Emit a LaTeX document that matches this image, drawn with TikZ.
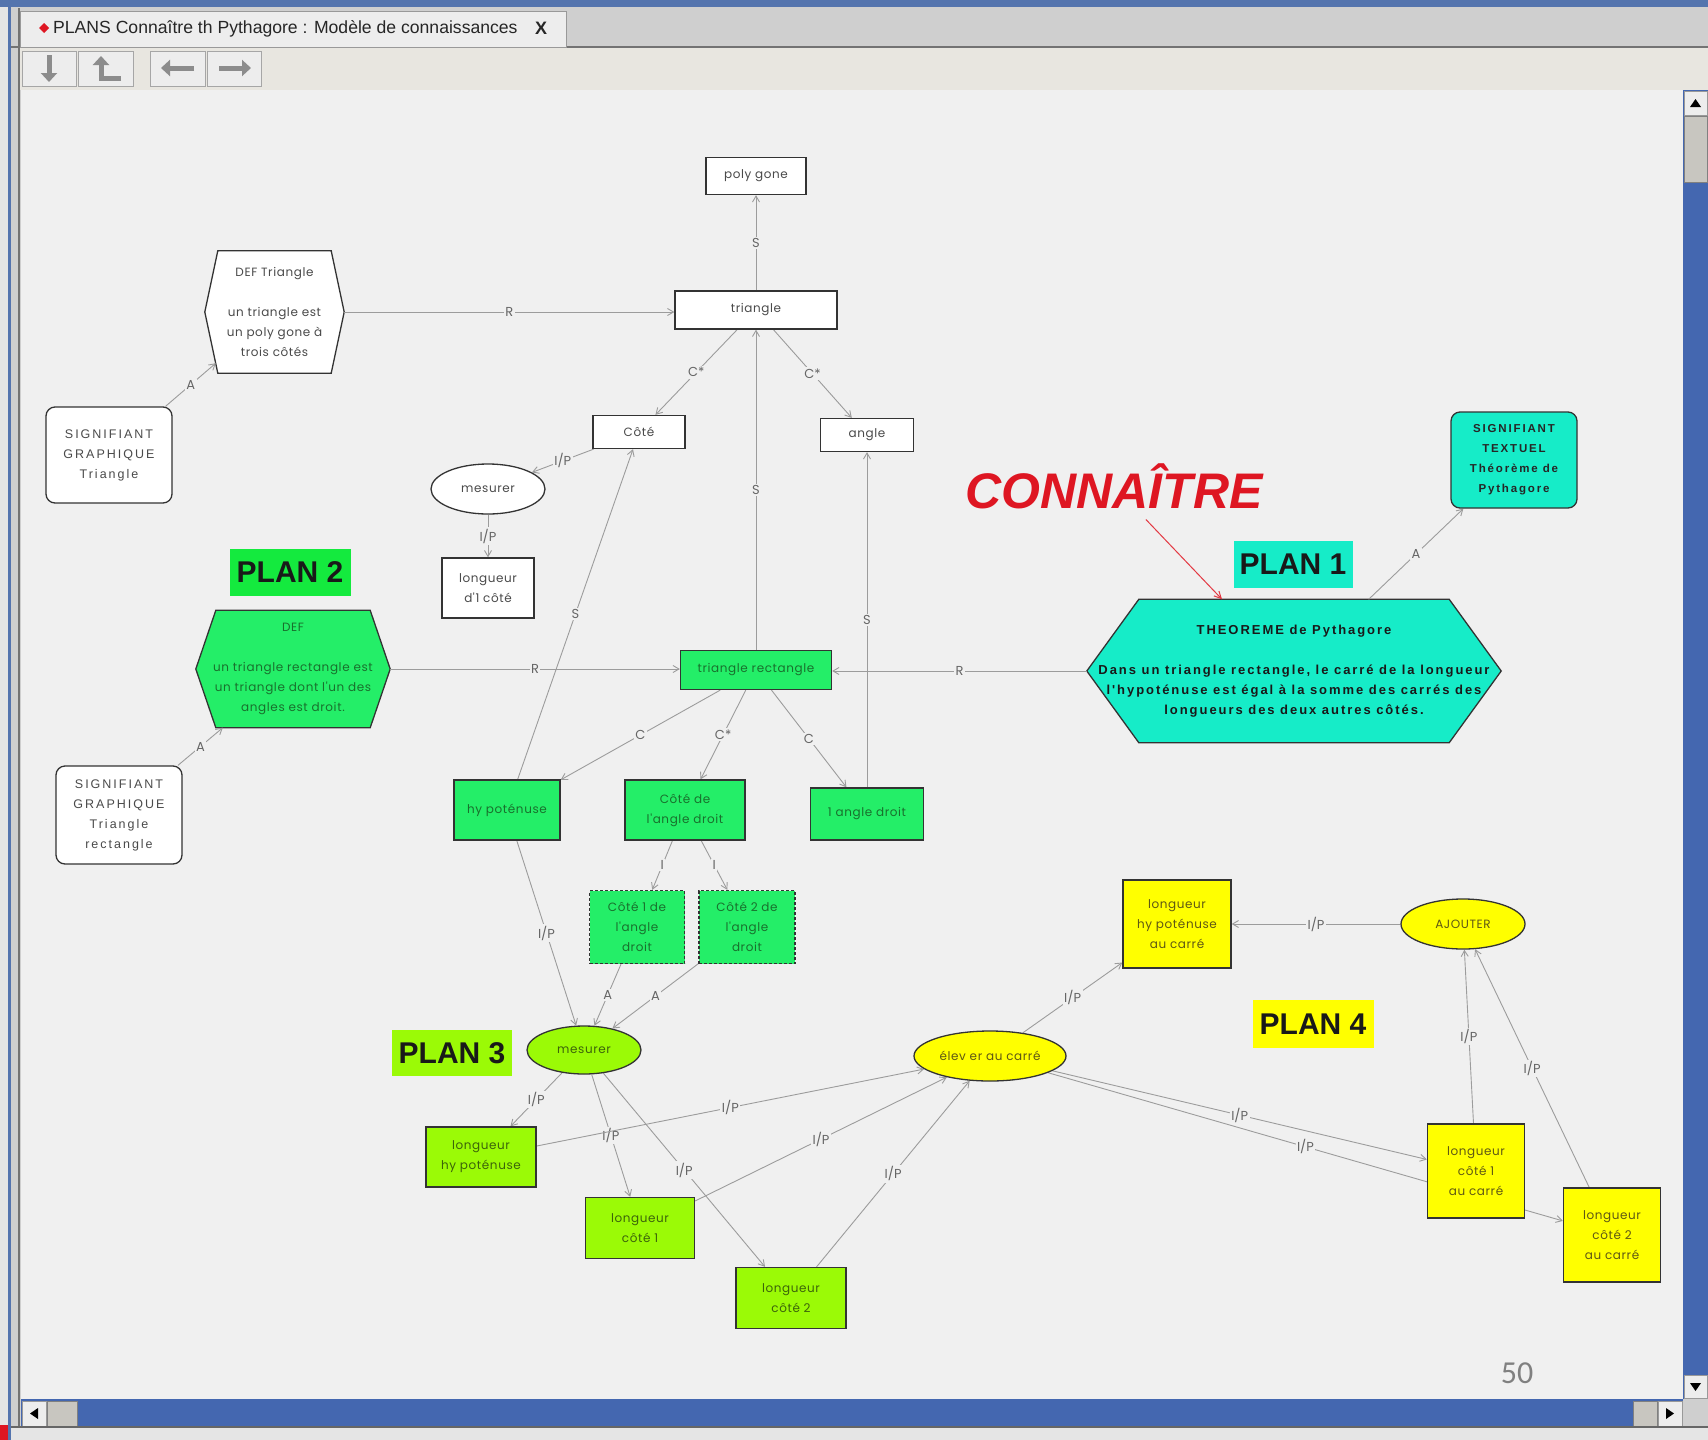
\documentclass[tikz,border=0pt]{standalone}
\usepackage{fontspec}
\setmainfont{Liberation Sans}
\newfontfamily\geofont[LetterSpace=5]{Poppins}
\newfontfamily\linkfont{Poppins}
\newfontfamily\capsfont[LetterSpace=16]{Liberation Sans}
\newfontfamily\theofamily[LetterSpace=15]{Liberation Sans}
\newfontfamily\pagefont{Carlito}
\usetikzlibrary{arrows.meta,shapes.geometric}

\pgfdeclarelayer{chromelayer}
\pgfdeclarelayer{shapelayer}
\pgfdeclarelayer{linklayer}
\pgfsetlayers{chromelayer,shapelayer,linklayer,main}

\definecolor{canvas}{HTML}{F0F0F0}
\definecolor{linkgray}{HTML}{9C9C9C}
\definecolor{labelgray}{HTML}{666666}
\definecolor{nodegreen}{RGB}{36,238,104}
\definecolor{plangreen}{RGB}{20,234,62}
\definecolor{limegreen}{RGB}{155,250,6}
\definecolor{brightyellow}{RGB}{255,255,0}
\definecolor{turquoise}{RGB}{22,236,200}
\definecolor{textgreen}{RGB}{25,112,45}
\definecolor{textlime}{RGB}{60,100,10}
\definecolor{textolive}{RGB}{95,88,20}
\definecolor{textgray}{HTML}{4A4A4A}
\definecolor{alertred}{RGB}{222,22,34}
\definecolor{titleblue}{HTML}{5474AE}
\definecolor{framegray}{HTML}{CFCFCF}
\definecolor{tabface}{HTML}{EDEDED}
\definecolor{toolbarface}{HTML}{E8E6E0}
\definecolor{trackblue}{HTML}{4467B0}
\definecolor{thumbgray}{HTML}{C8C6C0}
\definecolor{icongray}{HTML}{8C8C8C}

\newcommand\nodefont{\geofont\fontsize{12}{20}\selectfont}
\newcommand\labelfont{\linkfont\fontsize{13}{14}\selectfont}
\newcommand\signfont{\capsfont\fontsize{12.5}{20}\selectfont}
\newcommand\theofont{\theofamily\bfseries\fontsize{13}{20}\selectfont}
\newcommand\textuelfont{\capsfont\bfseries\fontsize{11.5}{20}\selectfont}

\tikzset{
  box/.style={rectangle, draw=black!80, line width=1.3pt, align=center, inner sep=0pt, font=\nodefont},
  whitebox/.style={box, fill=white, text=textgray},
  greenbox/.style={box, fill=nodegreen, text=textgreen},
  limebox/.style={box, fill=limegreen, text=textlime},
  yellowbox/.style={box, fill=brightyellow, text=textolive},
  oval/.style={ellipse, draw=black!80, line width=1.3pt, inner sep=0pt, font=\nodefont},
  roundbox/.style={box, rounded corners=9pt},
  hexnode/.style={rectangle, inner sep=0pt, align=center, font=\nodefont},
  hexline/.style={draw=black!80, line width=1.3pt, line join=miter},
  plantag/.style={rectangle, inner sep=0pt, font=\bfseries\fontsize{30}{30}\selectfont, text=black!90},
  link/.style={draw=linkgray, line width=0.9pt, -{Straight Barb[length=6pt,width=7pt]}},
  lab/.style={fill=canvas, inner sep=1.5pt, text=labelgray, font=\labelfont},
  button/.style={fill=black!7, draw=black!35, line width=1pt},
  arrowicon/.style={draw=icongray, line width=5pt, -{Triangle[length=9pt,width=16pt]}},
  scrollbtn/.style={fill=tabface, draw=black!40, line width=0.8pt},
  thumb/.style={fill=thumbgray, draw=black!50, line width=0.8pt},
}

% hexagon outline drawn behind a named rectangular text node
\newcommand\drawhex[3]{%
  \begin{pgfonlayer}{shapelayer}
  \draw[hexline, fill=#3] ([xshift=#2]#1.north west) -- ([xshift=-#2]#1.north east) -- (#1.east)
    -- ([xshift=-#2]#1.south east) -- ([xshift=#2]#1.south west) -- (#1.west) -- cycle;
  \end{pgfonlayer}}

\begin{document}
\begin{tikzpicture}[x=1pt,y=-1pt]
\useasboundingbox (0,0) rectangle (1708,1440);

% ---------------- window frame, tab, toolbar, scrollbars ----------------
\begin{pgfonlayer}{chromelayer}
  \fill[framegray] (0,0) rectangle (1708,1440);
  \fill[titleblue] (0,0) rectangle (1708,7);
  \fill[black!10] (0,7) rectangle (8,1440);
  \fill[titleblue] (8,7) rectangle (11,1440);
  \fill[black!19] (11,8) rectangle (1708,47);
  \draw[black!55, line width=1.5pt] (11,47) -- (1708,47);
  \draw[black!55, line width=1.5pt] (19,8) -- (19,1427);
  \filldraw[fill=tabface, draw=black!40, line width=1pt] (20,11) rectangle (566,47);
  \fill[alertred] (44,23) -- (49,28) -- (44,33) -- (39,28) -- cycle;
  \node[anchor=west, inner sep=0pt, font=\fontsize{17.6}{17.6}\selectfont, text=black!85] (tabtitle) at (53,29)
    {PLANS Connaître th Pythagore : Modèle de connaissances};
  \node[inner sep=0pt, font=\bfseries\fontsize{18}{18}\selectfont, text=black!85] (tabclose) at (541,28) {X};
  \fill[toolbarface] (20,48) rectangle (1708,90);
  \filldraw[button] (22,51) rectangle (76,86);
  \filldraw[button] (78,51) rectangle (133,86);
  \filldraw[button] (150,51) rectangle (205,86);
  \filldraw[button] (207,51) rectangle (261,86);
  \draw[arrowicon] (49,55) -- (49,82);
  \draw[arrowicon] (121,78) -- (101,78) -- (101,56);
  \draw[arrowicon] (194,68) -- (161,68);
  \draw[arrowicon] (219,68) -- (251,68);
  % drawing canvas
  \fill[canvas] (21,90) rectangle (1683,1399);
  % vertical scrollbar
  \fill[trackblue] (1683,90) rectangle (1708,1399);
  \filldraw[scrollbtn] (1684,91) rectangle (1707,115);
  \fill[black] (1695.5,99) -- (1701,107) -- (1690,107) -- cycle;
  \filldraw[thumb] (1684,116) rectangle (1707,182);
  \filldraw[scrollbtn] (1684,1375) rectangle (1707,1398);
  \fill[black] (1695.5,1391) -- (1701,1383) -- (1690,1383) -- cycle;
  % horizontal scrollbar
  \fill[trackblue] (21,1399) rectangle (1683,1427);
  \filldraw[scrollbtn] (22,1401) rectangle (46,1426);
  \fill[black] (30,1413.5) -- (38,1408) -- (38,1419) -- cycle;
  \filldraw[thumb] (47,1401) rectangle (77,1426);
  \filldraw[thumb] (1633,1401) rectangle (1657,1426);
  \filldraw[scrollbtn] (1658,1401) rectangle (1682,1426);
  \fill[black] (1674,1413.5) -- (1666,1408) -- (1666,1419) -- cycle;
  \fill[framegray] (1683,1399) rectangle (1708,1427);
  \fill[black!10] (11,1427) rectangle (1708,1440);
  \draw[black!60, line width=1.5pt] (11,1427) -- (1708,1427);
  \fill[alertred] (0,1425) rectangle (8,1440);
  \node[font=\pagefont\fontsize{32}{32}\selectfont, text=black!50] (pagenum) at (1517,1373) {50};
\end{pgfonlayer}

% ---------------- upper part: triangle ----------------
\node[whitebox, minimum width=100pt, minimum height=37pt] (poly) at (756,176) {poly gone};
\node[whitebox, minimum width=162pt, minimum height=38pt] (tri) at (756,310) {triangle};
\node[hexnode, minimum width=139pt, minimum height=122pt, text=textgray] (defT) at (274.5,312)
  {DEF Triangle\\[20pt]un triangle est\\un poly gone à\\trois côtés};
\drawhex{defT}{13pt}{white}
\node[roundbox, fill=white, text=textgray, font=\signfont, minimum width=126pt, minimum height=96pt] (sgT) at (109,455)
  {SIGNIFIANT\\GRAPHIQUE\\Triangle};
\node[whitebox, minimum width=92pt, minimum height=33pt] (cote) at (639,432) {Côté};
\node[whitebox, minimum width=93pt, minimum height=33pt] (angle) at (867,435) {angle};
\node[oval, fill=white, text=textgray, minimum width=114pt, minimum height=50pt] (mesA) at (488,489) {mesurer};
\node[whitebox, minimum width=92pt, minimum height=60pt] (lenA) at (488,588) {longueur\\d'1 côté};

% ---------------- plan 2 ----------------
\node[plantag, fill=plangreen, minimum width=121pt, minimum height=47pt] (plan2) at (290,572) {PLAN 2};
\node[hexnode, minimum width=194pt, minimum height=117pt, text=textgreen] (defR) at (293,669)
  {DEF\\[20pt]un triangle rectangle est\\un triangle dont l'un des\\angles est droit.};
\drawhex{defR}{20pt}{nodegreen}
\node[roundbox, fill=white, text=textgray, font=\signfont, minimum width=126pt, minimum height=98pt] (sgR) at (119,815)
  {SIGNIFIANT\\GRAPHIQUE\\Triangle\\rectangle};
\node[greenbox, minimum width=151pt, minimum height=39pt] (trr) at (756,670) {triangle rectangle};
\node[greenbox, minimum width=106pt, minimum height=60pt] (hyp) at (507,810) {hy poténuse};
\node[greenbox, minimum width=120pt, minimum height=60pt] (cad) at (685,810) {Côté de\\l'angle droit};
\node[greenbox, minimum width=113pt, minimum height=52pt] (adr) at (867,814) {1 angle droit};
\node[greenbox, dash pattern=on 3pt off 2pt, minimum width=95pt, minimum height=73pt] (ca1) at (637,927) {Côté 1 de\\l'angle\\droit};
\node[greenbox, dash pattern=on 3pt off 2pt, minimum width=96pt, minimum height=73pt] (ca2) at (747,927) {Côté 2 de\\l'angle\\droit};

% ---------------- plan 3 ----------------
\node[plantag, fill=limegreen, minimum width=120pt, minimum height=46pt] (plan3) at (452,1053) {PLAN 3};
\node[oval, fill=limegreen, text=textlime, minimum width=114pt, minimum height=48pt] (mesB) at (584,1050) {mesurer};
\node[limebox, minimum width=110pt, minimum height=60pt] (lhyp) at (481,1157) {longueur\\hy poténuse};
\node[limebox, minimum width=109pt, minimum height=61pt] (lc1) at (640,1228) {longueur\\côté 1};
\node[limebox, minimum width=110pt, minimum height=61pt] (lc2) at (791,1298) {longueur\\côté 2};

% ---------------- plan 4 ----------------
\node[oval, fill=brightyellow, text=textolive, minimum width=152pt, minimum height=50pt] (elev) at (990,1056) {élev er au carré};
\node[yellowbox, minimum width=108pt, minimum height=88pt] (lhc) at (1177,924) {longueur\\hy poténuse\\au carré};
\node[oval, fill=brightyellow, text=textolive, minimum width=124pt, minimum height=50pt] (ajout) at (1463,924) {AJOUTER};
\node[plantag, fill=brightyellow, minimum width=121pt, minimum height=48pt] (plan4) at (1313,1024) {PLAN 4};
\node[yellowbox, minimum width=97pt, minimum height=94pt] (lc1c) at (1476,1171) {longueur\\côté 1\\au carré};
\node[yellowbox, minimum width=97pt, minimum height=94pt] (lc2c) at (1612,1235) {longueur\\côté 2\\au carré};

% ---------------- plan 1 ----------------
\node[font=\bfseries\itshape\fontsize{50}{50}\selectfont, text=alertred, inner sep=2pt] (conn) at (1114,486) {CONNAÎTRE};
\node[plantag, fill=turquoise, minimum width=119pt, minimum height=47pt] (plan1) at (1293,564) {PLAN 1};
\node[hexnode, font=\theofont, text=black!90, minimum width=414pt, minimum height=143pt] (theo) at (1294,671)
  {THEOREME de Pythagore\\[20pt]Dans un triangle rectangle, le carré de la longueur\\l'hypoténuse est égal à la somme des carrés des\\longueurs des deux autres côtés.};
\drawhex{theo}{52pt}{turquoise}
\node[roundbox, fill=turquoise, text=black!85, font=\textuelfont, minimum width=126pt, minimum height=96pt] (sgX) at (1514,460)
  {SIGNIFIANT\\TEXTUEL\\Théorème de\\Pythagore};

% ---------------- connectors ----------------
\begin{pgfonlayer}{linklayer}
  \draw[link] (tri) -- node[lab]{S} (poly);
  \draw[link] (defT.east) -- node[lab]{R} (defT.east -| tri.west);
  \draw[link] (tri) -- node[lab]{C*} (cote);
  \draw[link] (tri) -- node[lab]{C*} (angle);
  \draw[link] (cote) -- node[lab]{I/P} (mesA);
  \draw[link] (mesA) -- node[lab]{I/P} (lenA);
  \draw[link] (trr) -- node[lab]{S} (tri);
  \draw[link] (hyp) -- node[lab]{S} (cote);
  \draw[link] (adr) -- node[lab]{S} (angle);
  \draw[link] (sgT) -- node[lab]{A} ([xshift=11pt,yshift=10pt]defT.south west);

  \draw[link] (defR.east) -- node[lab]{R} (defR.east -| trr.west);
  \draw[link] (theo.west) -- node[lab]{R} (theo.west -| trr.east);
  \draw[link] (trr) -- node[lab]{C} (hyp);
  \draw[link] (trr) -- node[lab]{C*} (cad);
  \draw[link] (trr) -- node[lab]{C} (adr);
  \draw[link] (cad) -- node[lab]{I} (ca1);
  \draw[link] (cad) -- node[lab]{I} (ca2);
  \draw[link] (sgR) -- node[lab]{A} ([xshift=27pt]defR.south west);

  \draw[link] (hyp) -- node[lab]{I/P} (mesB);
  \draw[link] (ca1) -- node[lab]{A} (mesB);
  \draw[link] (ca2) -- node[lab]{A} (mesB);
  \draw[link] (mesB) -- node[lab]{I/P} (lhyp);
  \draw[link] (mesB) -- node[lab]{I/P} (lc1);
  \draw[link] (mesB) -- node[lab]{I/P} (lc2);

  \draw[link] (lhyp) -- node[lab]{I/P} (elev);
  \draw[link] (lc1) -- node[lab]{I/P} (elev);
  \draw[link] (lc2) -- node[lab]{I/P} (elev);
  \draw[link] (elev) -- node[lab]{I/P} (lhc);
  \draw[link] (ajout) -- node[lab]{I/P} (lhc);
  \draw[link] (elev) -- node[lab]{I/P} (lc1c);
  \draw[link] (elev) -- node[lab]{I/P} (lc2c);
  \draw[link] (lc1c) -- node[lab]{I/P} (ajout);
  \draw[link] (lc2c) -- node[lab]{I/P} (ajout);

  \draw[link] (theo) -- node[lab]{A} (sgX);
  \draw[draw=alertred!85, line width=1pt, shorten <=12pt, -{Straight Barb[length=7pt,width=7pt]}]
    (conn) -- ([xshift=-72pt]theo.north);
\end{pgfonlayer}
\end{tikzpicture}
\end{document}
